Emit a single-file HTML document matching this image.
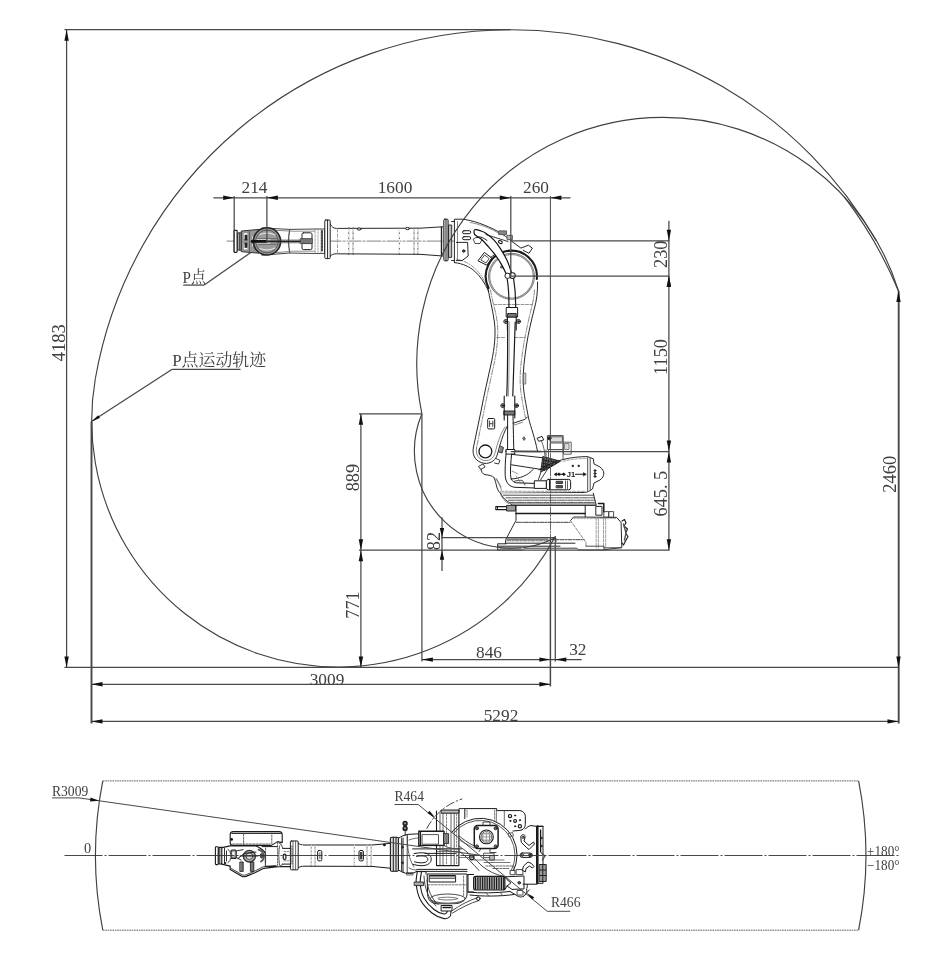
<!DOCTYPE html>
<html><head><meta charset="utf-8"><title>Robot working range</title>
<style>
html,body{margin:0;padding:0;background:#fff}
svg{display:block;will-change:transform}
text{font-family:"Liberation Serif","Noto Serif CJK SC",serif;fill:#404040}
</style></head><body>
<svg width="952" height="956" viewBox="0 0 952 956">
<rect width="952" height="956" fill="#fff"/>
<g fill="none" stroke="#1a1a1a" stroke-width="0.95" stroke-linejoin="round" stroke-linecap="round">
<line x1="227" y1="241.1" x2="512" y2="241.1" stroke="#666" stroke-width="0.8" stroke-dasharray="14 2 2 2"/>
<rect x="234" y="230.4" width="3.1" height="22" rx="0.6" fill="#fff" stroke-width="1.1"/>
<rect x="237.9" y="232.9" width="3.7" height="17.2" fill="#aaa" stroke="#333" stroke-width="1"/>
<line x1="239.7" y1="232.9" x2="239.7" y2="250.1" stroke="#333"/>
<path d="M262,228 L290,229.4 L315,229 L324.6,229 V253.5 L315,253.5 L290,253 L262,255.2" fill="#fff" stroke="#444" stroke-width="1"/>
<path d="M262,229.6 L289,231 M262,253.6 L289,251.6" stroke="#666" stroke-width="0.8"/>
<path d="M289.8,230 C288.4,236 288.4,246 289.8,252.6" stroke="#555" stroke-width="1.3"/>
<path d="M291,231.2 H315 M291,251.2 H315" stroke="#777" stroke-width="0.8"/>
<path d="M241.6,231 L259,229.4 L259,253.2 L241.6,251.7 Z" fill="#969696" stroke="#333" stroke-width="1"/>
<rect x="243.8" y="233.2" width="3.6" height="5.8" fill="#fff" stroke="none"/><rect x="243.8" y="244.2" width="3.6" height="5.2" fill="#fff" stroke="none"/>
<rect x="244.6" y="234.8" width="2.8" height="5.6" fill="#222" stroke="none"/><rect x="244.6" y="242.8" width="2.8" height="5" fill="#222" stroke="none"/>
<rect x="252.2" y="236.6" width="3.6" height="2.8" fill="#eee" stroke="none"/><rect x="252.2" y="243.8" width="3.6" height="2.6" fill="#eee" stroke="none"/>
<path d="M249.5,230.4 V252.4" stroke="#555" stroke-width="0.9"/>
<circle cx="267" cy="241.4" r="13.6" fill="#9c9c9c" stroke="#222" stroke-width="1.6"/>
<circle cx="267" cy="241.4" r="11.4" stroke="#555" stroke-width="1"/>
<path d="M260,234.5 C264,232.5 271,232.5 275,235 M260,248.5 C264,250.5 271,250.5 275,248" stroke="#ddd" stroke-width="1.2"/>
<path d="M258,238.6 H277 M258,244.4 H277" stroke="#666" stroke-width="0.9"/>
<path d="M257,239.8 H270 M257,243 H270" stroke="#e6e6e6" stroke-width="1"/>
<path d="M252,241.4 H301" stroke="#222" stroke-width="1.7"/>
<path d="M252,241.4 H266" stroke="#111" stroke-width="2.6"/>
<path d="M280,240 H301 M280,242.8 H301" stroke="#555" stroke-width="0.7"/>
<rect x="302" y="232.8" width="10" height="6.6" rx="1.5" fill="#fff" stroke="#222" stroke-width="1"/>
<rect x="302" y="243" width="10" height="6.6" rx="1.5" fill="#fff" stroke="#222" stroke-width="1"/>
<rect x="300.5" y="238.6" width="12" height="5" fill="#777" stroke="#333" stroke-width="0.7"/>
<path d="M315.1,229 V253.5 M318,229 V253.5 M321,229 V253.5" stroke="#888" stroke-width="0.7" stroke-dasharray="2 1.2"/>
<rect x="324.8" y="220" width="5.4" height="38.6" rx="1" fill="#fff" stroke="#222" stroke-width="1"/>
<line x1="327.6" y1="220" x2="327.6" y2="258.6" stroke="#222" stroke-width="1"/>
<path d="M322,231 V251" stroke="#444" stroke-dasharray="1.5 1.5" stroke-width="2"/>
<path d="M330.2,224.2 C332,227 333.5,228.4 336.3,228.4 L420,228.2 L442.6,226.8 M330.2,256 C332,254.5 333.5,253.8 336.3,253.8 L420,254.3 L442.6,256" />
<path d="M348.7,227.6 V254.6 M353.1,227.6 V254.6 M399.4,228.2 V254.2 M414.1,228 V254.6 M417.8,228 V254.6" stroke="#333" stroke-width="0.8"/>
<path d="M337.5,229 V253.5 M348.7,229 V253.5 M353.1,229 V253.5 M399.4,229 V253.5 M414.1,229 V253.5 M417.8,229 V253.5" stroke="#fff" stroke-width="1" stroke-dasharray="3 2.2"/>
<path d="M337.5,229 V253.5" stroke="#777" stroke-width="0.7" stroke-dasharray="3 2.2"/>
<ellipse cx="359" cy="229" rx="2" ry="1.1" fill="#fff"/><ellipse cx="407.5" cy="228.6" rx="2" ry="1.1" fill="#fff"/>
<rect x="443.8" y="219.2" width="4.3" height="41.6" rx="1" fill="#d8d8d8" stroke="#222" stroke-width="1"/>
<line x1="446" y1="219.2" x2="446" y2="260.8" stroke="#333"/>
<rect x="448.9" y="225" width="2.8" height="32.4" fill="#bbb" stroke="#222" stroke-width="0.9"/>
<path d="M441.5,227 V256" stroke="#222" stroke-width="1.4"/>
<path d="M454.4,262.6 V219.2 H462 C472,220 486,225 497.8,231.4 C503,234.5 508,238 511.6,241.2 L520.9,248.1 L528.4,245.2 L532.4,248.1 L529,253.3 L523.2,250.4" fill="#fff"/>
<path d="M451.6,221.5 H454.4 M451.6,260.5 H454.4"/>
<path d="M454.4,262.6 C463,263.5 470,267 474.7,271.2 C480,276 485,283 488.5,291"/>
<path d="M456.5,259 C464,260.5 471,264.5 476,269.5 C481,274.5 485,281 487.5,287" stroke="#666" stroke-width="0.7" stroke-dasharray="4 1.5 1 1.5"/>
<path d="M457.5,221.5 V259.5" stroke="#555" stroke-width="0.7"/>
<rect x="462.5" y="230.7" width="8.2" height="3" rx="1.5" stroke-width="1"/><rect x="462.5" y="236.7" width="8.2" height="3" rx="1.5" stroke-width="1"/>
<path d="M456.4,242.4 H467.6 L468.2,256 L462,260.6 H456.4"/><circle cx="463.7" cy="251" r="1.2" fill="#555"/>
<path d="M473.5,239 L476,237.5 H480.5 L482,239.5 L480,243.5 H475.5 Z" stroke-width="0.8"/>
<path d="M484.7,252.7 L491.9,258.1 L486.8,265.2 L478.3,261 Z" stroke-width="1"/><path d="M484.9,255.2 L489.2,258.5 L486,263 L481.2,260.2 Z" stroke="#444"/>
<path d="M490.8,257.4 L494,255"/>
<rect x="499" y="230.9" width="7.5" height="3.7" fill="#888" stroke="#555"/>
<rect x="507.4" y="235.4" width="5" height="4.3" fill="#bbb" stroke="#555"/>
<path d="M470,222.5 C480,224 492,229 500,234" stroke="#666" stroke-width="0.7"/>
<path d="M488.6,288 A25.6,25.6 0 1 1 536.8,279" stroke="#1a1a1a" stroke-width="2.1"/>
<circle cx="511.5" cy="276.3" r="23" stroke="#555" stroke-width="0.8"/>
<circle cx="511.5" cy="276.3" r="21.8" stroke="#888" stroke-width="1.4" stroke-dasharray="0.9 1.3"/>
<ellipse cx="502" cy="267" rx="1.6" ry="1.1" fill="#666" stroke="#555"/>
<path d="M475.2,229.5 C476.0,229.7 478.3,230.0 480.0,230.6 C481.7,231.2 483.1,231.4 485.4,232.9 C487.7,234.4 491.1,237.1 493.6,239.7 C496.1,242.3 498.1,245.1 500.4,248.6 C502.7,252.1 505.3,256.6 507.2,260.8 C509.1,265.0 511.1,271.6 511.9,273.7 L506.5,274.4 C505.7,272.8 503.5,268.1 501.7,264.9 C499.9,261.7 497.8,258.4 495.6,255.4 C493.5,252.5 491.1,249.8 488.8,247.2 C486.5,244.6 484.1,241.6 482.0,239.7 C479.9,237.8 476.9,236.3 475.9,235.6 C473.6,234.3 473.3,230.2 475.2,229.5 Z" fill="#fff" stroke="#111" stroke-width="1.2"/>
<path d="M486,234.6 L508,241.5" stroke="#222" stroke-width="0.9"/><path d="M477,236.8 C481,236.5 484,238 487,240.5" stroke="#222" stroke-width="1"/>
<ellipse cx="500.3" cy="242.1" rx="2" ry="1.4" transform="rotate(25 500.3 242.1)" fill="#fff" stroke-width="1.1"/>
<circle cx="512.4" cy="275.6" r="2.9" fill="#fff" stroke-width="1.1"/>
<circle cx="507.6" cy="275.8" r="2.7" fill="#fff" stroke-width="1"/>
<path d="M487.3,285 C489,296 492.5,308 494.4,322 C496,334 494.5,348 491.5,362 C488,378 484,395 481,411 L473.3,448 C472,456 476,462 484,463.3 C491,464 496,460 497.5,454 L500,445 C502,438 504.5,431 507.4,426" />
<path d="M537.6,282 C537.8,292 536.5,301 534.5,308 C531.5,320 528.5,332 526.5,345 C524.5,358 522.8,372 523.2,383 C523.6,394 526,404 528.5,418 C531,428 535,438 537.4,450.8"/>
<path d="M490.5,290 C492,300 495.5,310 497.2,322 C498.6,334 497.2,348 494.5,362 C491,378 487,395 484,411 L476.5,448" stroke="#555" stroke-width="0.7" stroke-dasharray="5 1.5 1 1.5"/>
<path d="M534.5,290 C534,298 532.5,304 531,310 C528,322 525.5,334 523.5,346 C521.5,358 519.8,372 520.2,383 C520.6,394 523,405 525.5,418" stroke="#555" stroke-width="0.7" stroke-dasharray="5 1.5 1 1.5"/>
<path d="M494,304.5 H532.5 M497,337.5 H506 M515,337.5 H525" stroke="#666" stroke-width="0.7" stroke-dasharray="3 1.5"/>
<rect x="523.6" y="373" width="2.2" height="11" fill="#ccc" stroke="#555" stroke-width="0.7"/>
<path d="M507.2,279 C509,290 509.2,300 508.8,312 M513.6,278.8 C515.5,290 516,300 515.5,312" stroke-width="1.2"/>
<path d="M507.6,322 C507.8,350 507.5,375 506.8,396 M515.2,322 C514.5,350 513.6,375 512.8,396" stroke-width="1.2"/>
<path d="M509.3,322 C509.3,350 509,375 508.4,396" stroke="#555" stroke-width="0.6"/>
<rect x="506.6" y="307.5" width="11" height="9.5" fill="#fff" stroke-width="1"/><rect x="508" y="313.5" width="8.2" height="3.5" fill="#777" stroke="#222"/>
<circle cx="505.8" cy="321.5" r="2" stroke-width="1"/><circle cx="518.5" cy="321.5" r="2" stroke-width="1"/><circle cx="505.8" cy="321.5" r="0.8" fill="#444"/><circle cx="518.5" cy="321.5" r="0.8" fill="#444"/>
<path d="M507.4,317 V330 M516.2,317 V330" stroke-width="1.1"/>
<circle cx="502.7" cy="405.6" r="1.9" stroke-width="1"/><circle cx="516.6" cy="405.6" r="1.9" stroke-width="1"/><circle cx="502.7" cy="405.6" r="0.8" fill="#444"/><circle cx="516.6" cy="405.6" r="0.8" fill="#444"/>
<rect x="504.2" y="411" width="10.6" height="4" fill="#777" stroke="#222"/><path d="M504.2,396 V420 M514.8,396 V418" stroke-width="1.1"/>
<path d="M507.6,415 V451 M513,415 C513.3,430 513.6,440 513.8,451" stroke-width="1"/>
<path d="M513.2,423.2 L522.4,420.2 C525,419.5 526.5,418.5 527.2,417.2" /><path d="M513.5,425.3 L522.5,422.3" stroke="#555" stroke-width="0.7"/>
<path d="M524.1,437 L525.4,438.7 L524.1,440.4 L522.8,438.7 Z" fill="#777" stroke="#555"/>
<rect x="487.7" y="418.5" width="7" height="10.4" rx="1" stroke-width="1"/><path d="M489.6,421 V426.5 M492.8,421 V426.5 M489.6,423.7 H492.8" stroke="#444" stroke-width="1"/>
<circle cx="485.4" cy="451.4" r="6.4" fill="#fff" stroke-width="1.3"/>
<path d="M476.5,448 C475.5,455 479,459.8 484.5,460.5 C490,461 493.5,458 494.8,453.5 L497.5,444 C499.5,437.5 502,431 505,427" stroke="#555" stroke-width="0.7"/>
<path d="M500.5,446 L503.5,447.5 L502,453 L498.8,452" fill="#888" stroke="#333"/><path d="M496,458.5 L500,460.5 L498.5,464 L494.5,463" stroke="#333"/>
<path d="M506,451.2 L541,451.6" stroke-width="1.5"/>
<rect x="506.4" y="449.5" width="8.4" height="4.6" fill="#fff" stroke-width="1"/>
<path d="M506,454.2 C505.2,462 505,470 505.2,475.5 C505.6,482 508.5,486.6 515,487.3 L534.4,488 M511.6,454.2 C510.8,462 510.3,469 510.5,474.5 C510.8,479.5 512.5,482.3 516.5,482.8 L534.4,483.4" stroke-width="1"/>
<path d="M512,454.4 L543.2,457.8 M511.5,464.8 L540.9,469.4"/>
<defs><pattern id="xh" width="1.6" height="1.6" patternUnits="userSpaceOnUse" patternTransform="rotate(35)"><rect width="1.6" height="1.6" fill="#777"/><path d="M0,0 H1.6 M0,0 V1.6" stroke="#111" stroke-width="0.9"/></pattern></defs>
<path d="M543.2,456.6 L560.5,461.2 L548,468.5 L541,471.8 Z" fill="#666" stroke="#222"/>
<path d="M544,458 L543,470 M546.5,458.5 L544.5,470 M549,459 L546,469.4 M551.5,459.6 L548.5,468 M554,460.2 L551.5,466.4 M556.5,460.8 L555,464.4 M542.5,460 L557,462.6 M542,463 L553,465.6 M541.6,466 L549.5,467.8 M541.4,469 L545,470" stroke="#111" stroke-width="0.7"/>
<path d="M541,471.8 L538.5,479.5 M548,468.5 L540.5,480" stroke="#333"/>
<path d="M537.4,438.1 L542,436.4 L543.8,439.9 L539.1,441.2 Z"/>
<path d="M541.5,441 C543.5,446 544.5,450 545,456" stroke="#555"/>
<rect x="547.8" y="435.6" width="15.4" height="14" fill="#fff" stroke="#444" stroke-width="1"/><rect x="550.5" y="436.8" width="12" height="5.2" stroke="#555" fill="#ddd"/><rect x="550.5" y="443" width="12.7" height="6.6" stroke="#555"/>
<circle cx="549.4" cy="438.2" r="1.6" fill="#222"/>
<rect x="563.8" y="442.2" width="7.4" height="12" stroke="#555" fill="#fff"/><rect x="565" y="443.5" width="4" height="6" stroke="#777" fill="#ddd"/>
<path d="M546,450 V457 M548.5,450 V458.5 M563,450 V459" stroke="#555"/>
<path d="M511,479 C520,478.5 528,475.5 533,469.5" /><path d="M513.5,481.5 C517,480.5 520,480 522.5,480.5 L525,485" stroke="#444"/>
<path d="M512,471 L518,474 M516,476 L521,483" stroke="#666" stroke-width="0.7"/>
<path d="M478.8,466.2 L483,464 L485,467 L481,469.2 Z" stroke="#333"/>
<path d="M481,469.2 C481.5,472 482.5,474 485,474.6 C489,475.3 492.5,475.5 494,477.6 C495.5,481 496,484 496.8,487 C497.8,490.5 499.5,492.5 500.5,493.5"/>
<path d="M494,477.6 C497.5,479.5 499.5,485 501.5,490 M496.5,478.5 L501,487" stroke="#555" stroke-width="0.7"/>
<path d="M539,469.8 C546,466 554,462 562.5,459.6 C572,457.3 580,456.6 587.6,456.6 L593.3,458.8 L594,464 L599.9,466.9 C602.5,469 603.8,471 603.8,473.5 C603.8,476 602.5,478 599.9,480.1 L594,483 L592.5,488.9 C590,491 587,492.3 584.5,492.5 L500.5,493.3"/>
<path d="M587.7,457.4 V490.6 M590.2,458 V489.6" stroke="#444"/>
<path d="M563,461.3 C572,459.2 580,458.5 587,458.5" stroke="#777" stroke-dasharray="2.5 1.5" stroke-width="0.7"/>
<path d="M500.5,491.3 H586" stroke="#777" stroke-dasharray="3 1.5" stroke-width="0.7"/>
<circle cx="572.7" cy="465.9" r="0.7" fill="#222"/><circle cx="578.6" cy="465.9" r="0.7" fill="#222"/>
<circle cx="595" cy="470.6" r="0.9" fill="#222"/><circle cx="595" cy="473.5" r="0.9" fill="#222"/><circle cx="595" cy="476.4" r="0.9" fill="#222"/>
<path d="M555,474.2 H565 M575.5,474.2 H585.5" stroke-width="1.1"/>
<path d="M554.4,474.2 l2.2,-1.5 v3 z M560.5,474.2 l-1.5,-1.5 l-1.5,1.5 l1.5,1.5 z M565.2,474.2 l-1.5,-1.5 l-1.5,1.5 l1.5,1.5 z M586,474.2 l-2.6,-1.6 v3.2 z" fill="#111" stroke="#111" stroke-width="0.5"/>
<rect x="534.7" y="480.8" width="11.7" height="7.6" fill="#fff" stroke-width="1"/>
<rect x="546.4" y="479.4" width="24.2" height="10.4" rx="2" fill="#fff" stroke-width="1"/>
<path d="M549.5,479.6 V489.6" stroke-width="1"/><rect x="556.5" y="481.3" width="6" height="2.2" fill="#555" stroke="#333"/><rect x="556.5" y="485.6" width="6" height="2.2" fill="#555" stroke="#333"/><path d="M565.5,481 V488.5 M567.5,481 V488.5" stroke="#555"/>
<path d="M500.5,493.3 C502,496 504,499 507.8,501.5 C509.5,503 511,504 512.5,505.4 H596.2 L593.3,493.3" fill="#fff"/>
<path d="M503.5,495.2 H593.8 M511.5,504 H595.8" stroke="#444"/>
<path d="M506,497.8 H594.4 M508.5,500.2 H594.9 M510,502.4 H595.3" stroke="#555" stroke-width="1" stroke-dasharray="5 1 1.5 1"/>
<path d="M500.5,493.8 C502,498 505,501.5 508.5,503.5" stroke="#666"/>
<rect x="495.8" y="506.6" width="18.4" height="3" fill="#fff" stroke-width="1.1"/><rect x="507" y="505.4" width="8.6" height="5.6" fill="#999" stroke="#222"/><path d="M497.5,507.4 V509"/>
<path d="M516,505.4 V513.5 M585.2,505.4 V516.8"/>
<path d="M516,513.4 H585.2" stroke-width="1.5"/>
<rect x="596.2" y="506.4" width="5.8" height="8.8" fill="#fff"/><path d="M598.5,503.5 H603.8 V512" stroke-width="1.5"/>
<path d="M516,513.5 V520.4 L505.9,539.3 L505.3,543.4"/>
<path d="M516.5,522.4 H570" stroke="#666" stroke-width="1.1" stroke-dasharray="4 1.2 1.5 1.2"/>
<path d="M507,539.1 H548 M506.2,543.2 H575"/>
<path d="M507,540.8 H549 M552,539.6 H584" stroke="#666" stroke-width="1.1" stroke-dasharray="4 1.2 1.5 1.2"/>
<path d="M550.5,440 V537" stroke="#444" stroke-width="0.8" stroke-dasharray="9 1.5 1.5 1.5"/>
<path d="M497.7,550 V543.8 H506 M497.7,546.2 H560" />
<path d="M497.7,550 H522.5 L524.5,548.2 H576.8 L578.6,550 H604 M500,548 H521" stroke="#333"/>
<path d="M552.5,538 H556 V541.5" stroke="#444"/>
<path d="M570.5,520.6 L573.6,517 L616.7,517.4 L621.1,522.6 L621.8,547.5 L604.2,549.8" fill="#fff"/>
<path d="M570.5,520.6 L586,542.5 L586,546" stroke="#777" stroke-width="0.9" stroke-dasharray="3 1.5"/>
<path d="M596.2,517.5 V548 M598.4,517.5 V548 M603.5,517.5 V548 M605.7,517.5 V548" stroke="#888" stroke-width="0.8" stroke-dasharray="3 1.3"/>
<path d="M574,518.6 H616" stroke="#888" stroke-dasharray="2 1.3" stroke-width="0.7"/>
<path d="M586,546.2 H604 V549.8 M604.5,547.8 H621" stroke="#444"/>
<rect x="604.2" y="511.6" width="4.6" height="5.6" stroke="#444"/><rect x="609" y="511.6" width="4.6" height="5.6" stroke="#444"/>
<path d="M622,521 L624.5,519.5 L626,523 L624,526 L627.5,529 L625.5,533 L628,536.5 L625.5,541 L623.5,545 L622,543" stroke="#222" stroke-width="1.2"/>
<path d="M623.5,524 L626,533 L624.5,540" stroke="#555" stroke-width="1.4"/>
</g>
<text x="566.8" y="477" style="font-family:'Liberation Sans',sans-serif;font-size:7.5px;font-weight:bold;fill:#111">J1</text>
<g fill="none" stroke="#1a1a1a" stroke-width="0.9" stroke-linejoin="round" stroke-linecap="round">
<rect x="215.4" y="846.8" width="2.8" height="17.8" rx="0.8" fill="#fff" stroke-width="1.1"/><rect x="219" y="847.4" width="2.8" height="16.6" fill="#bbb" stroke-width="1.1"/>
<path d="M233.2,831.6 H279.2 C281,831.6 282.2,832.8 282.2,834.6 V842.6 L277.5,841.6 L271.5,845.4 H233.2 C231.4,845.4 230.2,844.2 230.2,842.4 V834.6 C230.2,832.8 231.4,831.6 233.2,831.6 Z" fill="#fff" stroke-width="1.1"/>
<path d="M232,833.4 H281" stroke="#333" stroke-width="1.3" stroke-dasharray="2.2 1"/>
<path d="M243.6,834 V845 M271.8,835 V844 M233,844 H270" stroke="#555" stroke-width="0.9" stroke-dasharray="2 1.3"/>
<circle cx="231.6" cy="839.4" r="1.4" fill="#111" stroke="none"/>
<path d="M221.8,847.6 L230.2,845.8 H255.4 C258,846.6 260,848 261.7,849.2 C264,851 265.4,852.2 265.4,854 V862 M221.8,864.1 L230.2,866.2 V869.4 L241.8,876.2 C243,877 244.5,876.8 246,876.4 L255.4,872.5 L263.8,868.3 L277.5,866.7 H290.5" stroke-width="1.2"/>
<path d="M231.5,868.6 L242.5,875 C243.5,875.4 245,875.2 246.2,874.8 L255,871 L263.5,866.6 L276,865.4" stroke="#333" stroke-width="0.9"/>
<path d="M224.5,848 V863.8 M226.5,851 V861" stroke="#333" stroke-width="1"/><circle cx="225.2" cy="863" r="1.1" fill="#222" stroke="none"/>
<rect x="231" y="850" width="5.2" height="8.4" rx="1" fill="#999" stroke="#222" stroke-width="1.1"/><rect x="232.4" y="851.8" width="2.2" height="4.6" fill="#fff" stroke="none"/>
<path d="M236.2,851 L243,849.6 M236.2,857.4 L241,860 M228,849.5 C230,851 230.4,852 230.4,853.5 M228,862.5 C230,861 230.4,860 230.4,858.5" stroke="#333" stroke-width="1"/>
<ellipse cx="249.4" cy="856.2" rx="6" ry="5.8" fill="#aaa" stroke="#333" stroke-width="1.3"/><ellipse cx="249.4" cy="856.2" rx="3.4" ry="3.2" fill="#ddd" stroke="#444" stroke-width="0.9"/>
<path d="M238,858.5 L244,853.5 L256,852 M240,856 H258" stroke="#222" stroke-width="1"/>
<rect x="240.2" y="862" width="3" height="9.4" fill="#777" stroke="#222" stroke-width="0.9"/><rect x="250.8" y="862" width="3" height="9.4" fill="#777" stroke="#222" stroke-width="0.9"/>
<path d="M258.5,849.6 C262.5,851 264,853.5 264,856 C264,858.5 263,860.5 261,861.5" stroke-width="1.8" stroke="#555"/><ellipse cx="261.6" cy="855.8" rx="1.3" ry="2.4" fill="#555" stroke="#333"/>
<path d="M262,846.6 H277.5 M265.4,862 V866.4 L277.5,866.6" stroke-width="1"/>
<path d="M265.6,848 V866 M277.6,842 V866.6" stroke="#555" stroke-width="0.9" stroke-dasharray="2 1.2"/>
<path d="M277.6,842 C280.5,843.5 282.5,846 282.7,848.4 M277.6,866.7 C280.5,866 282,865 282.7,864.1 M279.6,846 C278.6,852 278.6,859 279.6,865" stroke="#666" stroke-width="1.2" stroke-dasharray="1.2 1"/>
<path d="M282.7,848.4 H290.5 M282.7,864.1 H290.5" stroke-width="1"/>
<path d="M284,851.6 H290 M284,860.8 H290" stroke="#666" stroke-width="0.8" stroke-dasharray="1.8 1.2"/>
<rect x="283.2" y="854.2" width="2.7" height="5.2" rx="1.2" stroke-width="1.2"/>
<rect x="290.4" y="841" width="7.8" height="28.8" rx="1" fill="#fff" stroke-width="1"/><path d="M293,841 V869.8 M295.6,841 V869.8" stroke="#444" stroke-width="0.8"/>
<path d="M292,846 V865" stroke="#555" stroke-width="1.2" stroke-dasharray="1 1.4"/>
<path d="M298.3,843.2 C300,844.6 301.5,845 304,845 L372,845 L390,843.4 M298.3,867.8 C300,866.6 301.5,866.2 304,866.2 L372,866.4 L390,868.2" stroke-width="1"/>
<path d="M311.3,844.6 V866.6 M315.1,844.6 V866.6 M354.4,845 V866.4 M367,845 V866.6 M371.2,844.8 V866.8" stroke="#444" stroke-width="0.8"/>
<path d="M302.5,845.4 V866 M311.3,845 V866 M315.1,845 V866 M354.4,845 V866 M367,845 V866 M371.2,845 V866" stroke="#fff" stroke-width="0.9" stroke-dasharray="2 1.6"/>
<rect x="317.6" y="850.5" width="4.2" height="10.4" rx="1.4" stroke-width="1"/><rect x="318.8" y="852.3" width="1.8" height="6.8" fill="#999" stroke="none"/>
<rect x="359" y="850.5" width="4.4" height="10.4" rx="1.4" stroke-width="1"/><rect x="360" y="852" width="2.4" height="7.4" fill="#444" stroke="none"/>
<rect x="390.4" y="837.2" width="8" height="34" rx="1.2" fill="#ddd" stroke-width="1.1"/><path d="M393.3,837.2 V871.2 M396,837.2 V871.2" stroke-width="1"/>
<circle cx="384.4" cy="844.9" r="1.4" fill="#111" stroke="none"/>
<circle cx="405.1" cy="823.4" r="1.9" stroke-width="1.5" fill="#999"/><circle cx="405.1" cy="828.4" r="1.9" stroke-width="1.5" fill="#999"/><path d="M405.2,830 V835.5" />
<path d="M398.4,838.2 C401,836.5 404,835 408,834.4 L419,833.8 M398.4,870 L403,872.4 C406,873.6 409,873.8 412,873.4 L416.5,871.6 M403,838 V872" stroke-width="1"/>
<circle cx="402.3" cy="847.2" r="0.9" fill="#333"/><circle cx="402.3" cy="862.8" r="0.9" fill="#333"/>
<path d="M407.5,836 C407,848 409,860 414,867 M407,872.6 L413,872.6 L413,875 L407,875 Z" stroke="#444" stroke-width="0.8"/>
<path d="M407.2,834.6 V873.2 M401.5,838 V871.5" stroke="#333" stroke-width="0.9"/>
<path d="M412.6,848.9 H461.6 M419,845.6 H444 M425,853.4 H456 M416.8,869.4 H467 M416.8,871.4 H467" stroke="#222" stroke-width="1"/>
<path d="M409,840 C413,838.5 416,838 418.8,838 M409,868 C412,869.5 414,870 416.8,870" stroke="#444" stroke-width="0.8"/>
<path d="M444,845.4 C448,848 452,848.6 458.9,848.8 M459,836 C463,839 468,843 474.3,846" stroke="#333" stroke-width="0.9"/>
<rect x="418.8" y="831.2" width="25.2" height="14.2" fill="#fff" stroke-width="1.4"/><rect x="422.5" y="834.6" width="16" height="9.6" stroke="#444" stroke-width="0.9"/><path d="M420.5,832 V844.6" stroke-width="1.2"/>
<rect x="444" y="833.6" width="4.6" height="10" fill="#888" stroke="#222" stroke-width="0.9"/>
<path d="M436.5,811 V831 M436.5,845.4 V865.6 M458.9,811 V865.6 M436.5,865.6 H458.9" stroke-width="1.1"/>
<rect x="441.5" y="810" width="17.4" height="3.2" fill="#bbb" stroke-width="1"/><path d="M440,813.2 V831 M443,813.2 V831 M440,846 V865 M443,846 V865 M451,813.2 V865 M454.2,813.2 V865" stroke="#444" stroke-width="0.85"/>
<path d="M446.5,814 V864 M456.6,814 V864" stroke="#666" stroke-width="0.8" stroke-dasharray="2 1.4"/>
<path d="M437,848.6 H458 M437,851.5 H458" stroke="#555" stroke-width="0.8"/>
<path d="M414,853.6 C420,852.4 426.5,852.2 429.5,855 C432.5,858 431.5,862.5 427.6,864.6 C423,866.5 417,865.6 412.8,864.2 M416.5,856.4 C421,855.6 425.4,855.6 427,857.4 C428.6,859.2 427.8,861.2 425.6,862.2 C422,863.4 418,862.8 414.6,861.8" stroke-width="1"/>
<path d="M451.48,832.41 A36.7,36.7 0 0 1 483.39,818.42 A36.7,36.7 0 0 1 512.60,837.39 A36.7,36.7 0 0 1 512.80,872.23" stroke-width="1"/><path d="M453.89,832.76 A34.6,34.6 0 0 1 483.62,820.55 A34.6,34.6 0 0 1 510.56,838.05 A34.6,34.6 0 0 1 511.50,870.17" stroke="#444" stroke-width="0.9"/>
<path d="M464.8,818.5 V808.6 H496.7 V810.6 H519.9 C523,811 525.3,813.4 525.3,816.1 V824.3 C525.3,827.6 523,830.2 519.9,830.4 L513,831" stroke-width="1"/>
<path d="M464.8,808.6 H459 V811" /><path d="M496.3,810.6 V822 M504.3,811 V826" stroke="#444" stroke-width="0.8"/><path d="M467,810 V817 M494.5,810 V820.5" stroke="#666" stroke-width="0.8" stroke-dasharray="2 1.3"/>
<circle cx="510" cy="816.1" r="1.6" stroke-width="1.2"/><circle cx="515.1" cy="820.9" r="1.4" stroke-width="1.2"/><circle cx="519.9" cy="826.3" r="1.6" stroke-width="1.2"/>
<circle cx="515.1" cy="815.5" r="0.6" fill="#222"/><circle cx="510.3" cy="820.9" r="0.6" fill="#222"/><circle cx="519.9" cy="820.2" r="0.6" fill="#222"/><circle cx="515.1" cy="826.3" r="0.6" fill="#222"/>
<rect x="474.3" y="825.6" width="23.8" height="23" rx="3.5" fill="#fff" stroke-width="1.5"/>
<circle cx="486.4" cy="836.9" r="6.9" stroke-width="1.1"/><circle cx="486.4" cy="836.9" r="5.4" stroke="#555" stroke-width="0.9"/><rect x="483.2" y="833.8" width="6.4" height="6.4" stroke="#666" stroke-width="0.8"/><path d="M486.4,831.5 V842.3 M481,836.9 H491.8" stroke="#888" stroke-width="0.8"/>
<circle cx="477" cy="828.3" r="1.5" fill="#666" stroke="#222" stroke-width="0.9"/>
<circle cx="495.6" cy="828.3" r="1.5" fill="#666" stroke="#222" stroke-width="0.9"/>
<circle cx="477" cy="846.4" r="1.5" fill="#666" stroke="#222" stroke-width="0.9"/>
<circle cx="495.6" cy="846.4" r="1.5" fill="#666" stroke="#222" stroke-width="0.9"/>
<path d="M483,825 V822 H490 V825 M481,848.8 L479,851.5 M490,848.8 V852.5 H496" stroke="#333"/>
<rect x="484" y="853.2" width="10" height="4.4" stroke="#444"/><rect x="490" y="855.5" width="4.4" height="4.6" fill="#bbb" stroke="#444"/>
<circle cx="471.8" cy="857.6" r="2.2" stroke-width="1.2"/><circle cx="471.8" cy="857.6" r="1" fill="#555" stroke="none"/>
<path d="M459,846 C468,852 476,860 482,866 C488,871 496,875 504,876.5 M459,851 C466,856 473,864 479,870.5" stroke="#333" stroke-width="0.9"/>
<path d="M459,840 L474,848 M459,857.5 H470 M474,860 H504 M484,862.5 H510" stroke="#555" stroke-width="0.8"/>
<path d="M486,866 H514 V874 M493,868.5 H509" stroke="#444" stroke-width="0.8" stroke-dasharray="2.2 1.2"/>
<rect x="510.5" y="870.5" width="4.5" height="4.2" fill="#fff" stroke="#333"/><rect x="516.5" y="869.6" width="6.4" height="5" fill="#fff" stroke="#333"/>
<path d="M525.3,829 C527,827 529,825.8 531,825.6 L537.6,826.5" stroke-width="1"/>
<rect x="536.9" y="826.3" width="6.1" height="57" fill="#fff" stroke-width="1"/><path d="M537.6,826.3 V883.3" stroke-width="1.9"/><path d="M540.6,830 V852 M536.9,826.3 H543" stroke-width="1.3"/>
<rect x="539.6" y="864.5" width="6.6" height="17" fill="#999" stroke="#222" stroke-width="1"/><path d="M539.6,870 H546 M539.6,875.5 H546 M542.8,864.5 V881.5" stroke="#222" stroke-width="1"/>
<path d="M541.5,853 L545,856 L542.5,860" stroke="#444" stroke-width="1.2"/>
<circle cx="541.3" cy="838" r="0.8" fill="#333"/><circle cx="541.3" cy="846" r="0.8" fill="#333"/>
<path d="M523,884.2 H537 M527,888 C527.5,886 527.5,885 527,884.2" stroke-width="1"/>
<path d="M521,836 C522.5,833.5 525.5,834.5 525,837.5 L524,841 L529,845.5 L533.5,842 L534.5,844 L529,849.5 L526.5,847.5 L521.5,842.5 Z" stroke-width="1" fill="#fff"/><circle cx="523" cy="837.3" r="1.1" stroke-width="0.9"/>
<rect x="520" y="853" width="12.4" height="4.4" rx="2.2" stroke-width="1" fill="#fff"/><circle cx="522.4" cy="855.2" r="1.2"/><circle cx="530" cy="855.2" r="1.4" fill="#444"/>
<path d="M522.5,870 L523.5,866 L528,862 L531.5,863.5 L534,866.5 L532.5,868 L529.5,866 L526,868.5 L525.5,871.5 Z" stroke-width="1" fill="#fff"/>
<path d="M508.5,833.5 L512.5,832.5 L513.5,836 L509.5,837 Z" stroke="#555"/>
<rect x="473.6" y="876.4" width="31.3" height="13.6" rx="2" fill="#aaa" stroke-width="1.1"/>
<path d="M475.5,877.5 V889 M477.9,877.5 V889 M480.2,877.5 V889 M482.6,877.5 V889 M484.9,877.5 V889 M487.2,877.5 V889 M489.6,877.5 V889 M491.9,877.5 V889 M494.3,877.5 V889 M496.6,877.5 V889 M499.0,877.5 V889 M501.4,877.5 V889 M503.7,877.5 V889" stroke="#111" stroke-width="1.05"/>
<path d="M468,874.5 H473.6 M468,892 H473.6 M468,874.5 V892" stroke-width="1"/>
<path d="M504.9,876.8 L524,876 V888.9 L512,889.4 L507,886 M504.9,889.6 L507,886 L511,882.8 L507,879.6 L504.9,877" stroke-width="1" /><circle cx="519.2" cy="882.8" r="1.3" fill="#666"/>
<rect x="517" y="890.5" width="6" height="4.6" rx="1" stroke="#333"/>
<path d="M468,892 C480,893.5 497,893 510,891.5 M470,895 C482,896.5 500,896.5 514,894.5 M510,891.5 L516,895 C519,897.5 522,897.5 524.5,895.5 C527,893.5 527.5,891 526.5,888.9" stroke-width="1"/>
<path d="M486,892.8 L489,896 M500,892.4 L503,895.8" stroke="#555"/>
<path d="M427.6,874 H467 V895 C466,900 462,903 456,903.6 L437,903.8 C431,903.2 428,900 427.6,895 Z" fill="#fff" stroke-width="1"/>
<rect x="429.6" y="875.5" width="26" height="6.5" fill="#fff" stroke-width="1"/><path d="M430,876.8 H455 M430,878.4 H455" stroke="#444" stroke-width="0.9"/>
<ellipse cx="447.8" cy="898.6" rx="17.6" ry="4.6" stroke="#333" stroke-width="0.9"/><ellipse cx="447.8" cy="898.6" rx="10" ry="1.4" stroke="#555" stroke-width="0.8"/>
<path d="M427.6,884.8 H467 M463.6,876 V896" stroke="#555" stroke-width="0.8" stroke-dasharray="2.2 1.3"/>
<path d="M432,901.5 C440,904.5 456,904.5 463,901" stroke="#666" stroke-width="1.2" stroke-dasharray="1.2 1.2"/>
<path d="M417.3,871.5 C417.1,873.6 415.7,879.2 416.2,884.0 C416.7,888.8 417.9,895.2 420.5,900.0 C423.1,904.8 428.1,909.9 432.0,913.0 C435.9,916.1 441.0,918.0 444.0,918.6 C447.0,919.2 448.8,917.8 450.0,916.5 C451.2,915.2 450.8,911.9 451.0,911.0" stroke-width="1.1"/><path d="M421.5,871.8 C421.3,873.8 419.8,879.6 420.2,884.0 C420.6,888.4 421.7,893.8 424.0,898.0 C426.3,902.2 430.7,906.8 434.0,909.5 C437.3,912.2 441.8,913.6 444.0,914.0 C446.2,914.4 446.4,912.9 447.0,912.0 C447.6,911.1 447.4,909.1 447.5,908.5" stroke-width="1.1"/>
<path d="M424,876 C424.5,888 428,898 436,906 M427,880 C428,890 431,898 438,904.5" stroke="#333" stroke-width="0.9"/>
<rect x="414.6" y="882" width="9" height="3.6" fill="#aaa" stroke="#222" stroke-width="0.9"/>
<path d="M416.5,871.6 H426 V874" stroke-width="1"/>
<rect x="441.5" y="905.5" width="10.5" height="5.5" fill="#fff" stroke-width="1"/><path d="M443,907.5 H450.5" stroke-width="1.3"/>
<path d="M452.5,910.5 C460,905 470,900 478,897.5 M452.5,913 C461,908 470,903 479,900.5" stroke="#333" stroke-width="0.9"/><circle cx="478.3" cy="898.6" r="1.8" stroke-width="1"/>
</g>
<g fill="none" stroke="#404040" stroke-width="1.15">
<path d="M876.33,241.01 A421.8,421.8 0 0 0 510.8,29.7 A421.8,421.8 0 0 0 95.32,378.77"/>
<path d="M844.27,196.86 A419.61,419.61 0 0 1 898.5,291.0"/>
<path d="M95.32,378.77 A246.2,246.2 0 0 0 555.40,536.18"/>
<path d="M421.9,413.8 A246.36,246.36 0 0 1 663.10,117.44 A246.36,246.36 0 0 1 898.5,291.0"/>
<path d="M421.9,413.8 A97.00,97.00 0 0 0 555.40,537.64"/>
</g>
<line x1="64.5" y1="29.7" x2="510.8" y2="29.7" stroke="#484848" stroke-width="1.25" />
<line x1="64.5" y1="667.4" x2="899.0" y2="667.4" stroke="#484848" stroke-width="1.25" />
<line x1="66.6" y1="29.7" x2="66.6" y2="667.4" stroke="#484848" stroke-width="1.25" />
<polygon points="66.60,29.70 68.80,40.70 64.40,40.70" fill="#111"/>
<polygon points="66.60,667.40 64.40,656.40 68.80,656.40" fill="#111"/>
<text x="64.6" y="342.8" font-size="18.5" text-anchor="middle" transform="rotate(-90 64.6 342.8)" >4183</text>
<line x1="91.5" y1="421.5" x2="91.5" y2="723.5" stroke="#484848" stroke-width="1.9" />
<line x1="91.5" y1="684.3" x2="550.4" y2="684.3" stroke="#484848" stroke-width="1.25" />
<polygon points="91.50,684.30 102.50,682.10 102.50,686.50" fill="#111"/>
<polygon points="550.40,684.30 539.40,686.50 539.40,682.10" fill="#111"/>
<text x="327" y="684.5" font-size="17.3" text-anchor="middle" >3009</text>
<line x1="91.5" y1="721.4" x2="898.5" y2="721.4" stroke="#484848" stroke-width="1.25" />
<polygon points="91.50,721.40 102.50,719.20 102.50,723.60" fill="#111"/>
<polygon points="898.50,721.40 887.50,723.60 887.50,719.20" fill="#111"/>
<line x1="898.7" y1="291" x2="898.7" y2="723.5" stroke="#484848" stroke-width="1.9" />
<text x="501" y="721" font-size="17.3" text-anchor="middle" >5292</text>
<polygon points="898.50,291.00 900.70,302.00 896.30,302.00" fill="#111"/>
<polygon points="898.50,667.40 896.30,656.40 900.70,656.40" fill="#111"/>
<text x="896" y="474.2" font-size="18.5" text-anchor="middle" transform="rotate(-90 896 474.2)" >2460</text>
<line x1="550.4" y1="196" x2="550.4" y2="440" stroke="#484848" stroke-width="1.0" />
<line x1="550.4" y1="537.5" x2="550.4" y2="686.5" stroke="#484848" stroke-width="1.5" />
<line x1="421.9" y1="413.8" x2="421.9" y2="661.5" stroke="#484848" stroke-width="1.25" />
<line x1="421.9" y1="659.7" x2="581.7" y2="659.7" stroke="#484848" stroke-width="1.25" />
<polygon points="421.90,659.60 432.90,657.40 432.90,661.80" fill="#111"/>
<polygon points="550.40,659.60 539.40,661.80 539.40,657.40" fill="#111"/>
<polygon points="555.30,659.60 566.30,657.40 566.30,661.80" fill="#111"/>
<line x1="555.3" y1="536.1832596511335" x2="555.3" y2="661.5" stroke="#484848" stroke-width="1.25" />
<text x="489" y="657.8" font-size="17.3" text-anchor="middle" >846</text>
<text x="577.8" y="654.5" font-size="17.3" text-anchor="middle" >32</text>
<line x1="359" y1="413.8" x2="421.9" y2="413.8" stroke="#484848" stroke-width="1.25" />
<line x1="359" y1="550.2" x2="669.5" y2="550.2" stroke="#484848" stroke-width="1.25" />
<line x1="360.9" y1="413.8" x2="360.9" y2="667.4" stroke="#484848" stroke-width="1.25" />
<polygon points="360.90,413.80 363.10,424.80 358.70,424.80" fill="#111"/>
<polygon points="360.90,550.20 358.70,539.20 363.10,539.20" fill="#111"/>
<polygon points="360.90,550.20 363.10,561.20 358.70,561.20" fill="#111"/>
<polygon points="360.90,667.40 358.70,656.40 363.10,656.40" fill="#111"/>
<text x="358.8" y="477.6" font-size="18.3" text-anchor="middle" transform="rotate(-90 358.8 477.6)" >889</text>
<text x="358.8" y="605" font-size="18.3" text-anchor="middle" transform="rotate(-90 358.8 605)" >771</text>
<line x1="441" y1="537.5" x2="555.5" y2="537.5" stroke="#484848" stroke-width="1.25" />
<line x1="442" y1="517.3" x2="442" y2="571" stroke="#484848" stroke-width="1.25" />
<polygon points="442.00,537.50 439.80,528.00 444.20,528.00" fill="#111"/>
<polygon points="442.00,550.20 444.20,559.70 439.80,559.70" fill="#111"/>
<text x="440" y="541" font-size="18.3" text-anchor="middle" transform="rotate(-90 440 541)" >82</text>
<line x1="213.4" y1="197.8" x2="570.5" y2="197.8" stroke="#484848" stroke-width="1.25" />
<line x1="234.2" y1="196" x2="234.2" y2="252" stroke="#484848" stroke-width="1.25" />
<line x1="266.9" y1="196" x2="266.9" y2="242.5" stroke="#484848" stroke-width="1.25" />
<line x1="510.8" y1="196" x2="510.8" y2="276" stroke="#484848" stroke-width="1.25" />
<polygon points="234.20,197.80 223.20,200.00 223.20,195.60" fill="#111"/>
<polygon points="266.90,197.80 277.90,195.60 277.90,200.00" fill="#111"/>
<polygon points="510.80,197.80 499.80,200.00 499.80,195.60" fill="#111"/>
<polygon points="550.40,197.80 561.40,195.60 561.40,200.00" fill="#111"/>
<text x="254.5" y="192.9" font-size="17.3" text-anchor="middle" >214</text>
<text x="395" y="192.9" font-size="17.3" text-anchor="middle" >1600</text>
<text x="536" y="192.9" font-size="17.3" text-anchor="middle" >260</text>
<line x1="668.9" y1="220.7" x2="668.9" y2="550.2" stroke="#484848" stroke-width="1.25" />
<line x1="510.8" y1="240.8" x2="669.5" y2="240.8" stroke="#484848" stroke-width="1.25" />
<line x1="510.8" y1="276.0" x2="669.5" y2="276.0" stroke="#484848" stroke-width="1.25" />
<line x1="510.8" y1="451.6" x2="669.5" y2="451.6" stroke="#484848" stroke-width="1.25" />
<polygon points="668.90,240.80 666.70,229.80 671.10,229.80" fill="#111"/>
<polygon points="668.90,276.00 671.10,287.00 666.70,287.00" fill="#111"/>
<polygon points="668.90,276.00 671.10,287.00 666.70,287.00" fill="#111"/>
<polygon points="668.90,451.60 666.70,440.60 671.10,440.60" fill="#111"/>
<polygon points="668.90,451.60 671.10,462.60 666.70,462.60" fill="#111"/>
<polygon points="668.90,550.20 666.70,539.20 671.10,539.20" fill="#111"/>
<text x="667" y="254.2" font-size="18.3" text-anchor="middle" transform="rotate(-90 667 254.2)" >230</text>
<text x="667" y="357" font-size="18.3" text-anchor="middle" transform="rotate(-90 667 357)" >1150</text>
<text x="667" y="493.6" font-size="18.3" text-anchor="middle" transform="rotate(-90 667 493.6)" >645. 5</text>
<line x1="183.2" y1="285.1" x2="204.2" y2="285.1" stroke="#484848" stroke-width="1.25" />
<line x1="204.2" y1="285.1" x2="250.8" y2="252.5" stroke="#484848" stroke-width="1.25" />
<text x="182.6" y="282.6" font-size="17" text-anchor="start" textLength="23.4" lengthAdjust="spacingAndGlyphs">P点</text>
<line x1="172.2" y1="369.3" x2="240.5" y2="369.3" stroke="#484848" stroke-width="1.25" />
<line x1="172.2" y1="369.3" x2="91.5" y2="421.5" stroke="#484848" stroke-width="1.25" />
<polygon points="91.50,421.50 98.19,415.27 99.93,417.96" fill="#111"/>
<text x="172.2" y="365.5" font-size="17" text-anchor="start" textLength="94" lengthAdjust="spacingAndGlyphs">P点运动轨迹</text>
<g fill="none" stroke="#404040" stroke-width="1.15"><path d="M102.79,780.9 A385.2,385.2 0 0 0 102.79,930.2"/><path d="M858.61,780.9 A385.2,385.2 0 0 1 858.61,930.2"/></g>
<line x1="102.79276270491988" y1="780.9" x2="858.60723729508" y2="780.9" stroke="#555" stroke-width="0.9" stroke-dasharray="1.7 0.7"/>
<line x1="102.79276270491988" y1="930.2" x2="858.60723729508" y2="930.2" stroke="#555" stroke-width="0.9" stroke-dasharray="1.7 0.7"/>
<line x1="64.5" y1="855.5" x2="900.4" y2="855.5" stroke="#333" stroke-width="0.9" stroke-dasharray="38 2 2 2"/>
<text x="87.5" y="852.5" font-size="14.4" text-anchor="middle" >0</text>
<text x="867" y="856.2" font-size="14" text-anchor="start" textLength="32.5" lengthAdjust="spacingAndGlyphs">+180°</text>
<text x="867" y="870.4" font-size="14" text-anchor="start" textLength="32.5" lengthAdjust="spacingAndGlyphs">−180°</text>
<line x1="52" y1="797.9" x2="79" y2="797.9" stroke="#484848" stroke-width="1" />
<line x1="79" y1="797.9" x2="481.5" y2="855.5" stroke="#484848" stroke-width="1" />
<polygon points="99.20,800.80 90.01,801.50 90.58,797.54" fill="#111"/>
<text x="52" y="795.6" font-size="13.6" text-anchor="start" >R3009</text>
<text x="394.5" y="801.3" font-size="13.6" text-anchor="start" >R464</text>
<line x1="394.5" y1="804.5" x2="418.2" y2="804.5" stroke="#484848" stroke-width="1" />
<line x1="418.2" y1="804.5" x2="547.2" y2="911.3" stroke="#484848" stroke-width="1" />
<polygon points="435.10,817.40 427.59,813.15 429.50,810.83" fill="#111"/>
<polygon points="526.70,893.00 534.21,897.25 532.30,899.57" fill="#111"/>
<text x="551" y="906.6" font-size="13.6" text-anchor="start" >R466</text>
<line x1="547.2" y1="911.3" x2="570.2" y2="911.3" stroke="#484848" stroke-width="1" />
<path d="M426.6,828.9 A60,60 0 0 1 462.4,798.9" fill="none" stroke="#333" stroke-width="0.9" stroke-dasharray="9 2 2 2"/>
<path d="M529.5,889.5 A60,60 0 0 1 523,897" fill="none" stroke="#333" stroke-width="0.9"/>
</svg></body></html>
